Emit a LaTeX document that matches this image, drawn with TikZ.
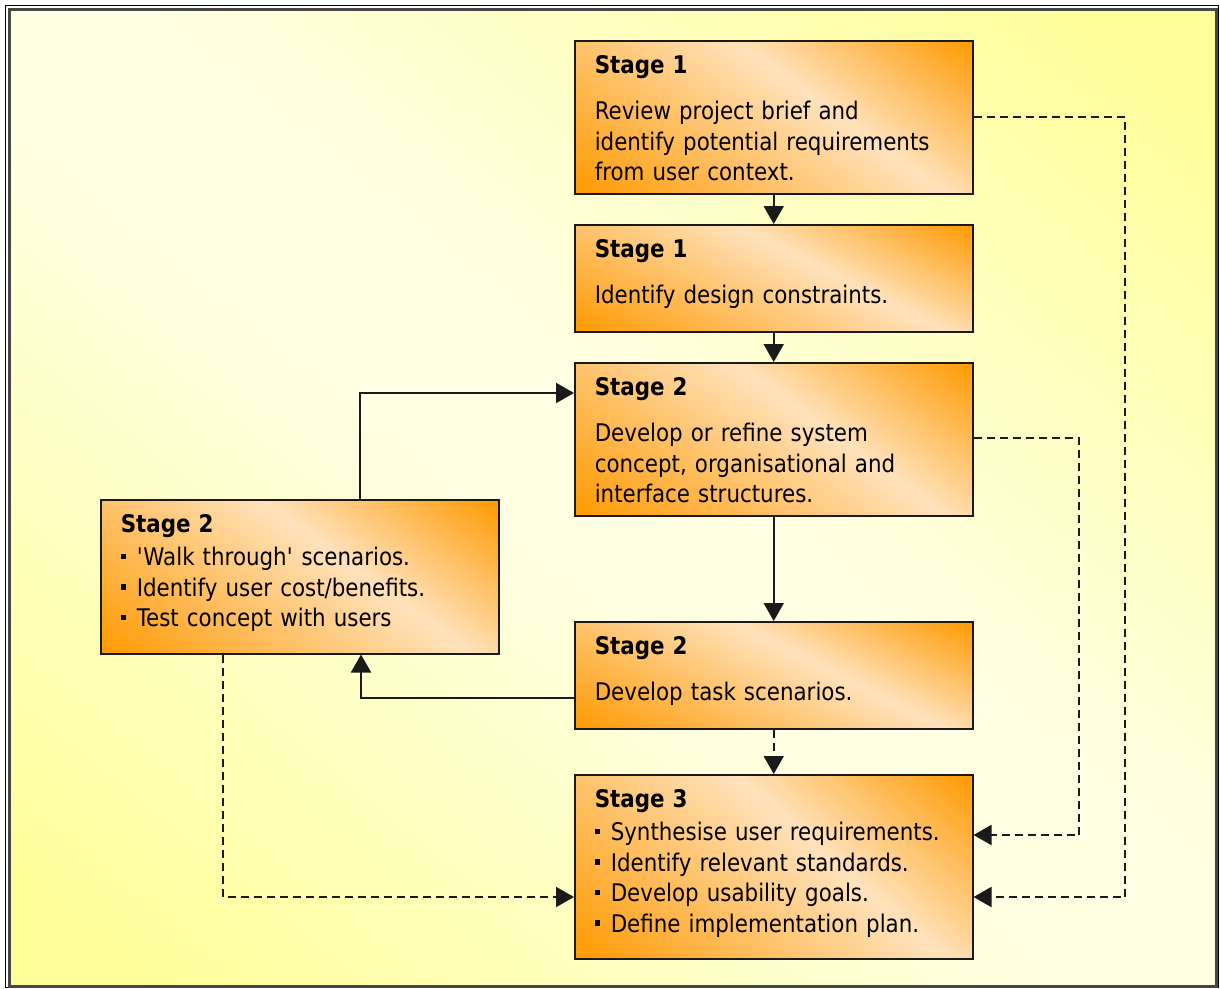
\documentclass[tikz,border=0pt]{standalone}
\usepackage{fontspec}
\setmainfont[FakeStretch=0.88]{DejaVu Sans}
\usetikzlibrary{arrows.meta,calc}

\definecolor{orng}{HTML}{FF9900}
\definecolor{peach}{HTML}{FFE2BC}
\definecolor{bgyel}{HTML}{FFFF99}
\definecolor{bgpale}{HTML}{FFFFE4}
\definecolor{ink}{HTML}{1A1A1A}

% strong colour at the lower-left and upper-right corners, pale band in between
\pgfdeclarehorizontalshading{boxgrad}{100bp}{color(0bp)=(orng); color(20bp)=(orng); color(56.5bp)=(peach); color(80bp)=(orng); color(100bp)=(orng)}
\pgfdeclarehorizontalshading{bggrad}{100bp}{color(0bp)=(bgyel); color(23bp)=(bgyel); color(47bp)=(bgpale); color(53bp)=(bgpale); color(77bp)=(bgyel); color(100bp)=(bgyel)}

% Lays a shading over the current path picture so that its colour runs along
% u + p*v, with (u,v) the position inside the box scaled to the unit square.
\makeatletter
\newcommand\diagfill[2]{%
  \pgfpointdiff{\pgfpointanchor{path picture bounding box}{south west}}%
               {\pgfpointanchor{path picture bounding box}{north east}}%
  \edef\dg@w{\strip@pt\pgf@x}\edef\dg@h{\strip@pt\pgf@y}%
  \pgfmathsetmacro\dg@k{(1+#2)/(60*(1+#2*#2))}%
  \pgfmathsetmacro\dg@a{\dg@k*\dg@w}%
  \pgfmathsetmacro\dg@b{\dg@k*#2*\dg@h}%
  \pgfmathsetmacro\dg@c{-\dg@k*#2*\dg@w}%
  \pgfmathsetmacro\dg@d{\dg@k*\dg@h}%
  \pgftransformshift{\pgfpointanchor{path picture bounding box}{center}}%
  \pgftransformcm{\dg@a}{\dg@b}{\dg@c}{\dg@d}{\pgfpointorigin}%
  \pgflowlevelsynccm
  \pgfuseshading{#1}%
}
\makeatother

\newcommand\stagefont{\fontsize{24.3pt}{30.5pt}\selectfont}
\newcommand\bul{\rule[6.5pt]{5.5pt}{5.5pt}\hspace{10.5pt}}

\tikzset{
  stagebox/.style={draw=ink, line width=1.5pt, path picture={\diagfill{boxgrad}{0.53}},
    anchor=north west, inner xsep=20pt, inner ysep=0pt, text width=358pt, align=left,
    text height=33pt, font=\stagefont, text=black},
  conn/.style={draw=ink, line width=2pt, -{Triangle[length=18pt,width=20pt]}},
  dconn/.style={conn, dash pattern=on 8pt off 5pt},
}

\begin{document}
\begin{tikzpicture}[x=1pt,y=-1pt]
\useasboundingbox (0,0) rectangle (1220,988);
\fill[white] (0,0) rectangle (1220,988);
% backdrop and sunken frame
\path[path picture={\diagfill{bggrad}{1}}] (11,11) rectangle (1215,985);
\draw[black, line width=1pt] (5.5,5.5) rectangle (1218.5,987.5);
\draw[black!72, line width=3pt] (9.5,9.5) rectangle (1216.5,986.5);

% stage boxes
\node[stagebox, text depth=120pt] (b1) at (574,40)
  {\textbf{Stage 1}\\[15.5pt]Review project brief and\\identify potential requirements\\from user context.};
\node[stagebox, text depth=74pt] (b2) at (574,224)
  {\textbf{Stage 1}\\[15.5pt]Identify design constraints.};
\node[stagebox, text depth=120pt] (b3) at (574,362)
  {\textbf{Stage 2}\\[15.5pt]Develop or refine system\\concept, organisational and\\interface structures.};
\node[stagebox, text depth=121pt] (b4) at (100,499)
  {\textbf{Stage 2}\\[2.5pt]\bul\textquotesingle Walk through\textquotesingle{} scenarios.\\\bul Identify user cost/benefits.\\\bul Test concept with users};
\node[stagebox, text depth=74pt] (b5) at (574,621)
  {\textbf{Stage 2}\\[15.5pt]Develop task scenarios.};
\node[stagebox, text depth=151pt] (b6) at (574,774)
  {\textbf{Stage 3}\\[2.5pt]\bul Synthesise user requirements.\\\bul Identify relevant standards.\\\bul Develop usability goals.\\\bul Define implementation plan.};

% main flow
\draw[conn] (b1.south) -- (b2.north);
\draw[conn] (b2.south) -- (b3.north);
\draw[conn] (b3.south) -- (b5.north);
\draw[dconn] (b5.south) -- (b6.north);

% scenario loop
\coordinate (up4) at ($(b4.north west)+(260,0)$);
\coordinate (in3) at ($(b3.north west)+(0,31)$);
\draw[conn] (up4) |- (in3);
\coordinate (out5) at ($(b5.north west)+(0,77)$);
\coordinate (dn4) at ($(b4.south west)+(261,0)$);
\draw[conn] (out5) -| (dn4);

% feeds into stage 3
\coordinate (dd4) at ($(b4.south west)+(123,0)$);
\coordinate (in6a) at ($(b6.north west)+(0,123)$);
\draw[dconn] (dd4) |- (in6a);

\coordinate (out1) at ($(b1.north east)+(0,77)$);
\coordinate (rail1) at (1125,0);
\coordinate (in6c) at ($(b6.north east)+(0,123)$);
\draw[dconn] (out1) -- (out1 -| rail1) |- (in6c);

\coordinate (out3) at ($(b3.north east)+(0,76)$);
\coordinate (rail3) at (1079,0);
\coordinate (in6b) at ($(b6.north east)+(0,61)$);
\draw[dconn] (out3) -- (out3 -| rail3) |- (in6b);
\end{tikzpicture}
\end{document}
